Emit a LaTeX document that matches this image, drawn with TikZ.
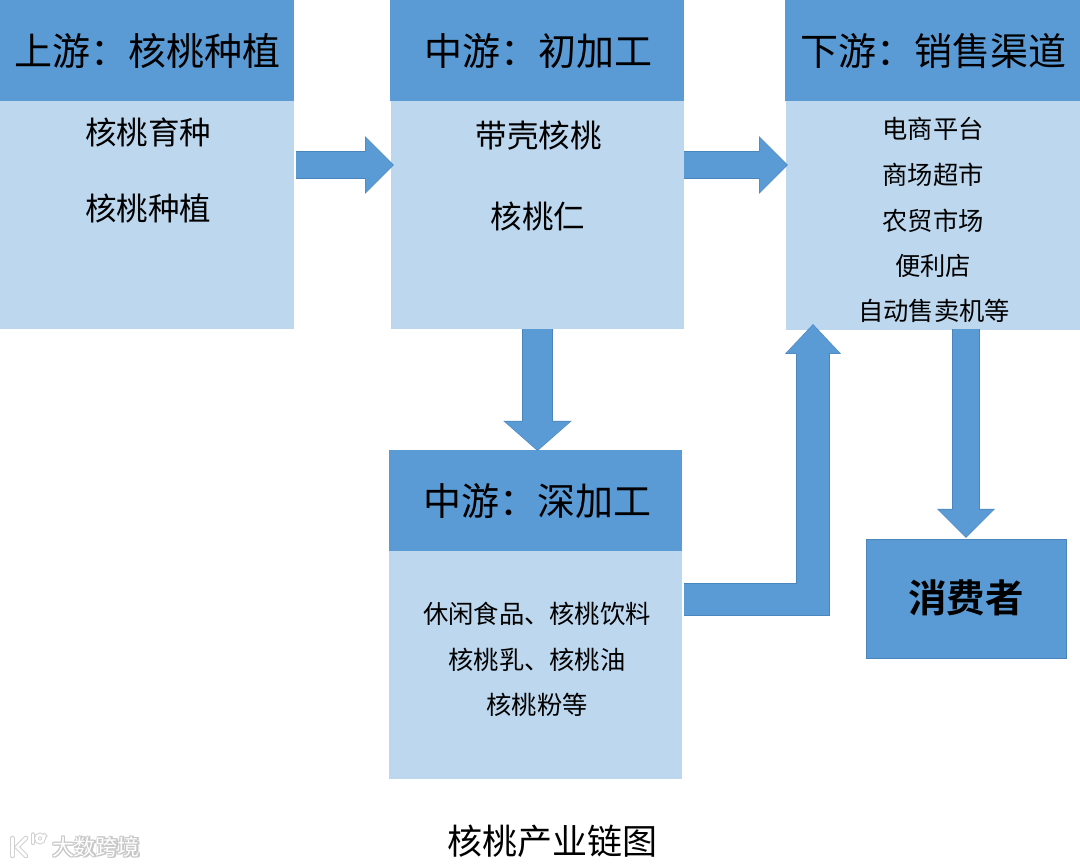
\documentclass[tikz,border=0pt]{standalone}
\usepackage{fontspec}
\setmainfont{Noto Sans CJK SC}
\newfontfamily\cjkbold[BoldFont={Noto Sans CJK SC Bold}]{Noto Sans CJK SC}
\usetikzlibrary{arrows.meta,calc}
\definecolor{headblue}{HTML}{5B9BD5}
\definecolor{bodyblue}{HTML}{BDD7EE}
\definecolor{edgeblue}{HTML}{4A86BC}
\tikzset{
  box/.style={rectangle,inner sep=0pt,outer sep=0pt,draw=none,anchor=north west},
  headbox/.style={box,fill=headblue},
  bodybox/.style={box,fill=bodyblue},
  titletext/.style={inner sep=0pt,font=\fontsize{38}{38}\selectfont},
  bigtext/.style={inner sep=0pt,font=\fontsize{31.5}{32}\selectfont},
  smalltext/.style={inner sep=0pt,font=\fontsize{25.3}{26}\selectfont},
  arrowedge/.style={draw=edgeblue,line width=28.2pt,line join=miter,
    -{Triangle[length=29pt,width=56pt]}},
  arrowfill/.style={draw=headblue,line width=26.4pt,line join=miter,shorten >=1pt,
    -{Triangle[length=27.4pt,width=53.4pt]}},
  wmshadow/.style={inner sep=0pt,text=black!22,font=\fontsize{22}{22}\selectfont},
  wmtext/.style={inner sep=0pt,text=white,font=\fontsize{22}{22}\selectfont},
  logoshadow/.style={draw=black!18,line width=4.6pt,line cap=round},
  logostroke/.style={draw=white,line width=2.6pt,line cap=round},
}
\newcommand{\wmlogo}{%
  \draw (12.5,838) -- (12.5,856);
  \draw (26,838) -- (17,847) -- (26,856);
  \draw (33,834.5) -- (33,843);
  \draw (40,838.5) circle (3.6);
  \draw (44.5,836) circle (0.1);
}
\begin{document}
\begin{tikzpicture}[x=1pt,y=-1pt]
\useasboundingbox (0,0) rectangle (1080,866);
% boxes
\node[bodybox,minimum width=294pt,minimum height=228pt] (upbody) at (0,101) {};
\node[headbox,minimum width=294pt,minimum height=101pt] (uphead) at (0,0) {};
\node[bodybox,minimum width=293pt,minimum height=228pt] (midbody) at (391,101) {};
\node[headbox,minimum width=294pt,minimum height=101pt] (midhead) at (390,0) {};
\node[bodybox,minimum width=294pt,minimum height=229pt] (downbody) at (786,101) {};
\node[headbox,minimum width=295pt,minimum height=101pt] (downhead) at (785,0) {};
\node[bodybox,minimum width=293pt,minimum height=228pt] (deepbody) at (389,551) {};
\node[headbox,minimum width=293pt,minimum height=101pt] (deephead) at (389,450) {};
\node[headbox,draw=edgeblue,line width=.6pt,minimum width=199.5pt,minimum height=118.5pt] (consumer) at (866.3,539.3) {};
% texts
\node[titletext] (t1) at (147.5,51) {上游：核桃种植};
\node[titletext] (t2) at (538,51) {中游：初加工};
\node[titletext] (t3) at (933,51) {下游：销售渠道};
\node[titletext] (t4) at (537,501) {中游：深加工};
\node[bigtext] (u1) at (148,132.5) {核桃育种};
\node[bigtext] (u2) at (148,209) {核桃种植};
\node[bigtext] (m1) at (538.5,136) {带壳核桃};
\node[bigtext] (m2) at (538,217) {核桃仁};
\node[smalltext] (d1) at (933,129) {电商平台};
\node[smalltext] (d2) at (933,175) {商场超市};
\node[smalltext] (d3) at (933,221) {农贸市场};
\node[smalltext] (d4) at (933,266) {便利店};
\node[smalltext] (d5) at (934,311) {自动售卖机等};
\node[smalltext] (p1) at (537,614) {休闲食品、核桃饮料};
\node[smalltext] (p2) at (537,660) {核桃乳、核桃油};
\node[smalltext] (p3) at (537,705) {核桃粉等};
\node[inner sep=0pt,font=\cjkbold\bfseries\fontsize{38.5}{39}\selectfont] (c1) at (966,598) {消费者};
\node[inner sep=0pt,font=\fontsize{35}{36}\selectfont] (caption) at (552,841) {核桃产业链图};
% connector ends
\coordinate (a1s) at (296,165);
\coordinate (a1e) at (394,165);
\coordinate (a2s) at (684,165);
\coordinate (a2e) at (788,165);
\coordinate (a3s) at (537.5,329);
\coordinate (a3e) at (537.5,451);
\coordinate (a4s) at (684,599.5);
\coordinate (a4e) at (813,324);
\coordinate (a5s) at (966,329);
\coordinate (a5e) at (966,538);
% block arrows
\foreach \st/\en in {a1s/a1e,a2s/a2e,a5s/a5e}{
  \draw[arrowedge] (\st) -- (\en);
  \draw[arrowfill] (\st) -- (\en);
}
\draw[draw=edgeblue,line width=31.6pt,-{Triangle[length=30pt,width=66.5pt]}] (a3s) -- (a3e);
\draw[draw=headblue,line width=29.8pt,shorten >=1pt,-{Triangle[length=28.4pt,width=63.9pt]}] (a3s) -- (a3e);
\draw[arrowedge,line width=33.5pt,-{Triangle[length=30pt,width=54.5pt]}] (a4s) -| (a4e);
\draw[arrowfill,line width=31.7pt,-{Triangle[length=28.4pt,width=52pt]}] (a4s) -| (a4e);
% watermark
\begin{scope}[logoshadow]\wmlogo\end{scope}
\begin{scope}[logostroke]\wmlogo\end{scope}
\foreach \dx/\dy in {-1/0,1/0,0/-1,0/1,-1/-1,1/1,-1/1,1/-1}
  \node[wmshadow] at ($(96,847)+(\dx,\dy)$) {大数跨境};
\node[wmtext] (wm) at (96,847) {大数跨境};
\end{tikzpicture}
\end{document}
